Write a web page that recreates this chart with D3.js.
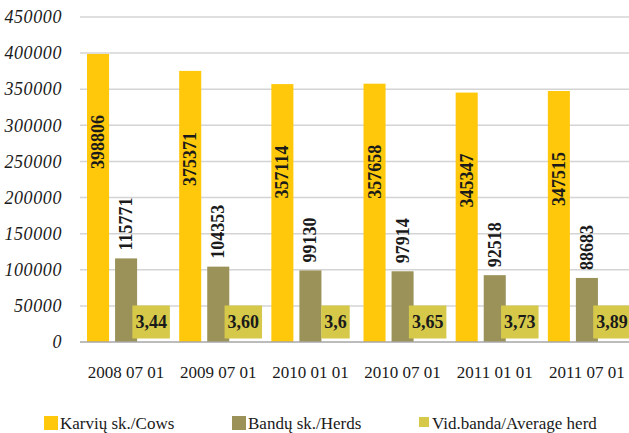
<!DOCTYPE html>
<html lang="lt">
  <head>
    <meta charset="UTF-8" />
    <title>Karvės ir bandos</title>
    <style>
      body { margin: 0; background: #fff; }
      svg { display: block; }
      text { font-family: "Liberation Serif", "Times New Roman", serif; fill: #1a1a1a; }
    </style>
  </head>
  <body>
    <svg id="chart" width="629" height="433"></svg>

    <script src="https://d3js.org/d3.v7.min.js"></script>
    <script>
      // duomenys
      const dates = ["2008 07 01", "2009 07 01", "2010 01 01", "2010 07 01", "2011 01 01", "2011 07 01"];
      const cows = [398806, 375371, 357114, 357658, 345347, 347515];
      const herds = [115771, 104353, 99130, 97914, 92518, 88683];
      const avgHerd = [3.44, 3.6, 3.6, 3.65, 3.73, 3.89];
      const avgLabels = ["3,44", "3,60", "3,6", "3,65", "3,73", "3,89"];
      const yTicks = [0, 50000, 100000, 150000, 200000, 250000, 300000, 350000, 400000, 450000];
      const seriesNames = ["Karvių sk./Cows", "Bandų sk./Herds", "Vid.banda/Average herd"];
      const colors = ["#ffc80b", "#9a9259", "#d6c94a"];

      const svg = d3.select("#chart");
      const plotLeft = 80, plotRight = 633, plotTop = 17, plotBottom = 342;

      const x0 = d3.scaleBand().domain(dates).range([plotLeft, plotRight]);
      const x1 = d3.scaleBand().domain([0, 1, 2]).range([0, x0.bandwidth()])
        .paddingInner(0.214).paddingOuter(0.25);
      const y = d3.scaleLinear().domain([0, 450000]).range([plotBottom, plotTop]);

      // tinklelis
      svg.append("g").selectAll("line").data(yTicks.slice(1)).join("line")
        .attr("x1", plotLeft).attr("x2", 629)
        .attr("y1", d => y(d)).attr("y2", d => y(d))
        .attr("stroke", "#d4d4d4").attr("stroke-width", 1.5);

      // y ašis
      const yAxis = svg.append("g").attr("transform", `translate(${plotLeft - 18},0)`)
        .call(d3.axisLeft(y).tickValues(yTicks).tickFormat(d3.format("d")).tickSize(0).tickPadding(0));
      yAxis.select(".domain").remove();
      yAxis.selectAll("text")
        .style("font-family", "'Liberation Serif', serif").style("font-style", "italic")
        .style("font-size", "18px").style("letter-spacing", "0.6px").attr("fill", "#1a1a1a");

      const data = dates.map((d, i) => ({ date: d, vals: [cows[i], herds[i], avgHerd[i]], i }));
      const groups = svg.append("g").selectAll("g").data(data).join("g")
        .attr("transform", d => `translate(${x0(d.date)},0)`);

      // stulpeliai
      groups.selectAll("rect").data(d => d.vals.map((v, k) => ({ v, k }))).join("rect")
        .attr("x", d => x1(d.k)).attr("width", x1.bandwidth())
        .attr("y", d => y(d.v)).attr("height", d => plotBottom - y(d.v))
        .attr("fill", d => colors[d.k]);

      // karvių etiketės (bar viduje)
      groups.append("text")
        .attr("transform", d => `translate(${x1(0) + x1.bandwidth() / 2 + 6},${y(d.vals[0]) + 88}) rotate(-90)`)
        .attr("text-anchor", "middle").attr("font-weight", "bold").attr("font-size", 18)
        .text(d => d.vals[0]);

      // bandų etiketės (virš stulpelio)
      groups.append("text")
        .attr("transform", d => `translate(${x1(1) + x1.bandwidth() / 2 + 6},${y(d.vals[1]) - 8}) rotate(-90)`)
        .attr("text-anchor", "start").attr("font-weight", "bold").attr("font-size", 18)
        .text(d => d.vals[1]);

      // vidutinės bandos etiketės su fonu
      groups.each(function (d) {
        const g = d3.select(this);
        const cx = x1(2) + x1.bandwidth() / 2 - 3;
        const cy = y(d.vals[2]) - 20;
        const bg = g.append("rect").attr("fill", colors[2]);
        const t = g.append("text")
          .attr("x", cx).attr("y", cy + 6.5)
          .attr("text-anchor", "middle").attr("font-weight", "bold").attr("font-size", 18)
          .text(avgLabels[d.i]);
        const w = t.node().getComputedTextLength() + 6;
        bg.attr("x", cx - w / 2).attr("width", w).attr("y", cy - 16.5).attr("height", 33);
      });

      // x ašis
      svg.append("line").attr("x1", plotLeft).attr("x2", 629)
        .attr("y1", plotBottom).attr("y2", plotBottom)
        .attr("stroke", "#a6a6a6").attr("stroke-width", 1.5);
      svg.append("g").selectAll("text").data(dates).join("text")
        .attr("x", d => x0(d) + x0.bandwidth() / 2).attr("y", 378)
        .attr("text-anchor", "middle").attr("font-size", 17)
        .text(d => d);

      // legenda
      const legendX = [44, 232, 419];
      const leg = svg.append("g").selectAll("g").data(seriesNames).join("g")
        .attr("transform", (d, i) => `translate(${legendX[i]},0)`);
      leg.append("rect")
        .attr("y", (d, i) => (i === 2 ? 417 : 416))
        .attr("width", (d, i) => (i === 2 ? 10 : 14)).attr("height", (d, i) => (i === 2 ? 10 : 14))
        .attr("fill", (d, i) => colors[i]);
      leg.append("text")
        .attr("x", (d, i) => (i === 2 ? 13 : 16)).attr("y", 429)
        .attr("font-size", 17).text(d => d);
    </script>
  </body>
</html>
